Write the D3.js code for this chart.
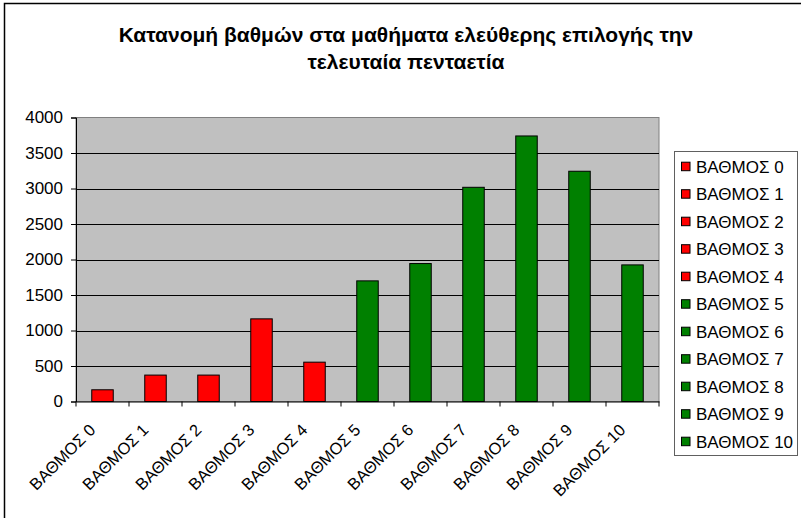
<!DOCTYPE html>
<html>
<head>
<meta charset="utf-8">
<script src="https://cdn.jsdelivr.net/npm/d3@7"></script>
<style>
  html, body { margin: 0; padding: 0; background: #fff; }
  svg { display: block; font-family: Arial, "Liberation Sans", sans-serif; }
</style>
</head>
<body>
<svg id="chart" width="801" height="518"></svg>
<script>
const titleLines = ["Κατανομή βαθμών στα μαθήματα ελεύθερης επιλογής την", "τελευταία πενταετία"];
const categories = ["ΒΑΘΜΟΣ 0","ΒΑΘΜΟΣ 1","ΒΑΘΜΟΣ 2","ΒΑΘΜΟΣ 3","ΒΑΘΜΟΣ 4","ΒΑΘΜΟΣ 5","ΒΑΘΜΟΣ 6","ΒΑΘΜΟΣ 7","ΒΑΘΜΟΣ 8","ΒΑΘΜΟΣ 9","ΒΑΘΜΟΣ 10"];
const values = [165, 372, 372, 1164, 554, 1699, 1943, 3017, 3740, 3243, 1924];
const barColors = ["#FF0000","#FF0000","#FF0000","#FF0000","#FF0000","#008000","#008000","#008000","#008000","#008000","#008000"];
const yTicks = [0, 500, 1000, 1500, 2000, 2500, 3000, 3500, 4000];

const svg = d3.select("#chart");
const plot = {left: 76, right: 659, top: 117.5, bottom: 401.5};

// outer chart border (right/bottom cropped)
svg.append("rect").attr("x", 4.5).attr("y", 3.5).attr("width", 900).attr("height", 900)
  .attr("fill", "none").attr("stroke", "#000").attr("stroke-width", 1.5);

// title
svg.append("g").selectAll("text").data(titleLines).join("text")
  .attr("x", 406).attr("y", (d, i) => 42 + i * 27)
  .attr("text-anchor", "middle").attr("font-weight", "bold").attr("font-size", 21)
  .attr("fill", "#000").text(d => d);

const x = d3.scaleBand().domain(categories).range([plot.left, plot.right]);
const y = d3.scaleLinear().domain([0, 4000]).range([plot.bottom, plot.top]);

// plot area background
svg.append("rect").attr("x", plot.left).attr("y", plot.top)
  .attr("width", plot.right - plot.left).attr("height", plot.bottom - plot.top)
  .attr("fill", "#C0C0C0").attr("stroke", "#808080").attr("stroke-width", 1);

// gridlines
svg.append("g").selectAll("line").data(yTicks.filter(t => t > 0 && t < 4000)).join("line")
  .attr("x1", plot.left).attr("x2", plot.right)
  .attr("y1", d => Math.round(y(d)) + 0.5).attr("y2", d => Math.round(y(d)) + 0.5)
  .attr("stroke", "#000").attr("stroke-width", 1);

// bars
const barW = 21.5;
svg.append("g").selectAll("rect").data(values).join("rect")
  .attr("x", (d, i) => x(categories[i]) + x.bandwidth() / 2 - barW / 2)
  .attr("y", d => y(d))
  .attr("width", barW)
  .attr("height", d => y(0) - y(d))
  .attr("fill", (d, i) => barColors[i])
  .attr("stroke", "#000").attr("stroke-width", 1);

// y axis
const yAxis = d3.axisLeft(y).tickValues(yTicks).tickSize(5).tickPadding(8).tickFormat(d3.format("d"));
const gy = svg.append("g").attr("transform", `translate(${plot.left},0)`).call(yAxis);
gy.select(".domain").attr("stroke", "#000");
gy.selectAll(".tick line").attr("stroke", "#000");
gy.selectAll(".tick text").attr("font-size", 17).attr("font-family", "Arial, 'Liberation Sans', sans-serif").attr("fill", "#000");

// x axis baseline + ticks at category boundaries
const xAxis = d3.axisBottom(x).tickSize(0).tickFormat("");
const gx = svg.append("g").attr("transform", `translate(0,${plot.bottom})`).call(xAxis);
gx.select(".domain").attr("stroke", "#000");
const boundaries = categories.map(c => x(c)).concat([plot.right]);
gx.append("g").selectAll("line").data(boundaries).join("line")
  .attr("x1", d => d).attr("x2", d => d).attr("y1", 0).attr("y2", 5).attr("stroke", "#000");

// x labels rotated
svg.append("g").selectAll("text").data(categories).join("text")
  .attr("transform", d => `translate(${x(d) + x.bandwidth() / 2 - 6},431) rotate(-45)`)
  .attr("text-anchor", "end").attr("font-size", 16.5).attr("fill", "#000").text(d => d);

// legend
const leg = svg.append("g");
leg.append("rect").attr("x", 674.5).attr("y", 151.5).attr("width", 123).attr("height", 304)
  .attr("fill", "#fff").attr("stroke", "#606060").attr("stroke-width", 1);
const items = leg.selectAll("g.item").data(categories).join("g").attr("class", "item")
  .attr("transform", (d, i) => `translate(0,${166.7 + i * 27.5})`);
items.append("rect").attr("x", 681.5).attr("y", -4.5).attr("width", 8.5).attr("height", 8.5)
  .attr("fill", (d, i) => barColors[i]).attr("stroke", "#000").attr("stroke-width", 1);
items.append("text").attr("x", 696).attr("y", 6).attr("font-size", 17).attr("fill", "#000").text(d => d);
</script>
</body>
</html>
